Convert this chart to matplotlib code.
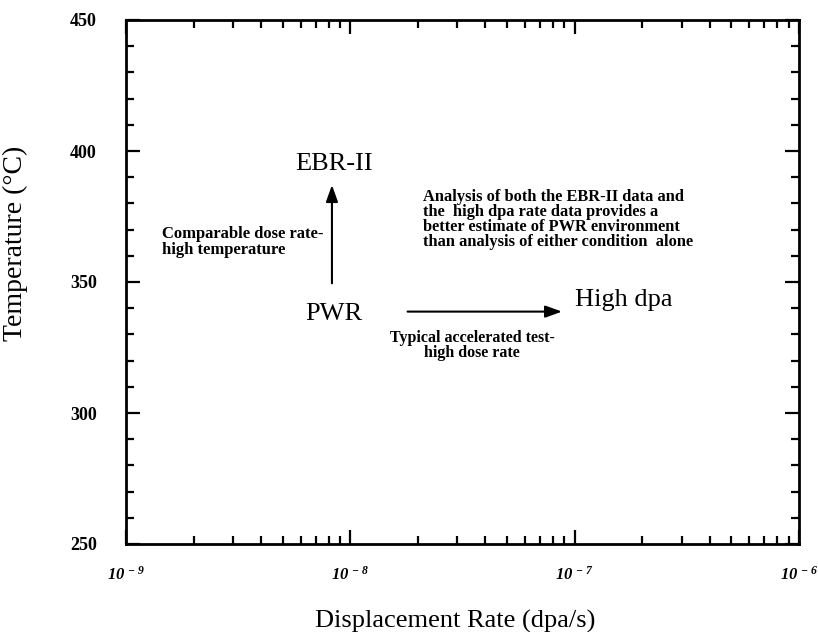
import matplotlib
matplotlib.use("Agg")
import matplotlib.pyplot as plt
from matplotlib.ticker import MultipleLocator, LogLocator, NullFormatter

plt.rcParams['font.family'] = ['Liberation Serif', 'DejaVu Serif']
plt.rcParams['mathtext.fontset'] = 'custom'
plt.rcParams['mathtext.bf'] = 'Liberation Serif:italic:bold'
plt.rcParams['mathtext.rm'] = 'Liberation Serif'

# axis ranges and ticks
x_range = [1e-9, 1e-6]
y_range = [250, 450]
x_ticks = [1e-9, 1e-8, 1e-7, 1e-6]
x_tick_labels = [r'$\mathbf{10^{\,-9}}$', r'$\mathbf{10^{\,-8}}$',
                 r'$\mathbf{10^{\,-7}}$', r'$\mathbf{10^{\,-6}}$']
y_ticks = [250, 300, 350, 400, 450]

# the three irradiation conditions
cond_names = ["EBR-II", "PWR", "High dpa"]
cond_rate = [8.5e-9, 8.45e-9, 1.66e-7]
cond_temp = [392.7, 335.5, 341.0]

# arrows from PWR towards the two test conditions
arrow_from_rate = [8.28e-9, 1.80e-8]
arrow_from_temp = [349.5, 338.7]
arrow_to_rate = [8.28e-9, 8.78e-8]
arrow_to_temp = [387.0, 338.7]

# explanatory notes
note_up = "Comparable dose rate-\nhigh temperature"
note_right = "Typical accelerated test-\nhigh dose rate"
note_summary = ("Analysis of both the EBR-II data and\n"
                "the  high dpa rate data provides a\n"
                "better estimate of PWR environment\n"
                "than analysis of either condition  alone")

fig = plt.figure(figsize=(8.18, 6.32), dpi=100)
ax = fig.add_axes([126 / 818, 88 / 632, 673 / 818, 524 / 632])

ax.set_xscale('log')
ax.set_xlim(x_range)
ax.set_ylim(y_range)

ax.set_xticks(x_ticks)
ax.set_xticklabels(x_tick_labels, fontsize=12)
ax.xaxis.set_minor_locator(LogLocator(base=10, subs=range(2, 10)))
ax.xaxis.set_minor_formatter(NullFormatter())
ax.set_yticks(y_ticks)
ax.set_yticklabels([str(v) for v in y_ticks], fontsize=13, fontweight='bold')
ax.yaxis.set_minor_locator(MultipleLocator(10))

ax.tick_params(which='both', direction='in', top=True, right=True, width=1.6)
ax.tick_params(which='major', length=10)
ax.tick_params(which='minor', length=6)
ax.tick_params(axis='x', pad=16)
ax.tick_params(axis='y', pad=21)
for sp in ax.spines.values():
    sp.set_linewidth(2)

ax.set_xlabel("Displacement Rate (dpa/s)", fontsize=19)
ax.set_ylabel("Temperature (\u00b0C)", fontsize=20)
ax.xaxis.set_label_coords(0.489, -0.125)
ax.yaxis.set_label_coords(-0.146, 0.574)

for name, r, t in zip(cond_names, cond_rate, cond_temp):
    ax.text(r, t, name, fontsize=19, ha='center', va='baseline')

for x0, y0, x1, y1 in zip(arrow_from_rate, arrow_from_temp, arrow_to_rate, arrow_to_temp):
    ax.annotate("", xy=(x1, y1), xytext=(x0, y0),
                arrowprops=dict(arrowstyle='-|>,head_length=0.5,head_width=0.18',
                                mutation_scale=20, lw=1.5, color='black',
                                shrinkA=0, shrinkB=0))

ax.text(1.45e-9, 365.2, note_up, fontsize=12, fontweight='bold',
        ha='left', va='center', linespacing=1.05)
ax.text(3.49e-8, 325.9, note_right, fontsize=11.5, fontweight='bold',
        ha='center', va='center', multialignment='center', linespacing=0.9)
ax.text(2.11e-8, 374.0, note_summary, fontsize=11.8, fontweight='bold',
        ha='left', va='center', linespacing=0.92)

fig.savefig("out.png", dpi=100)
